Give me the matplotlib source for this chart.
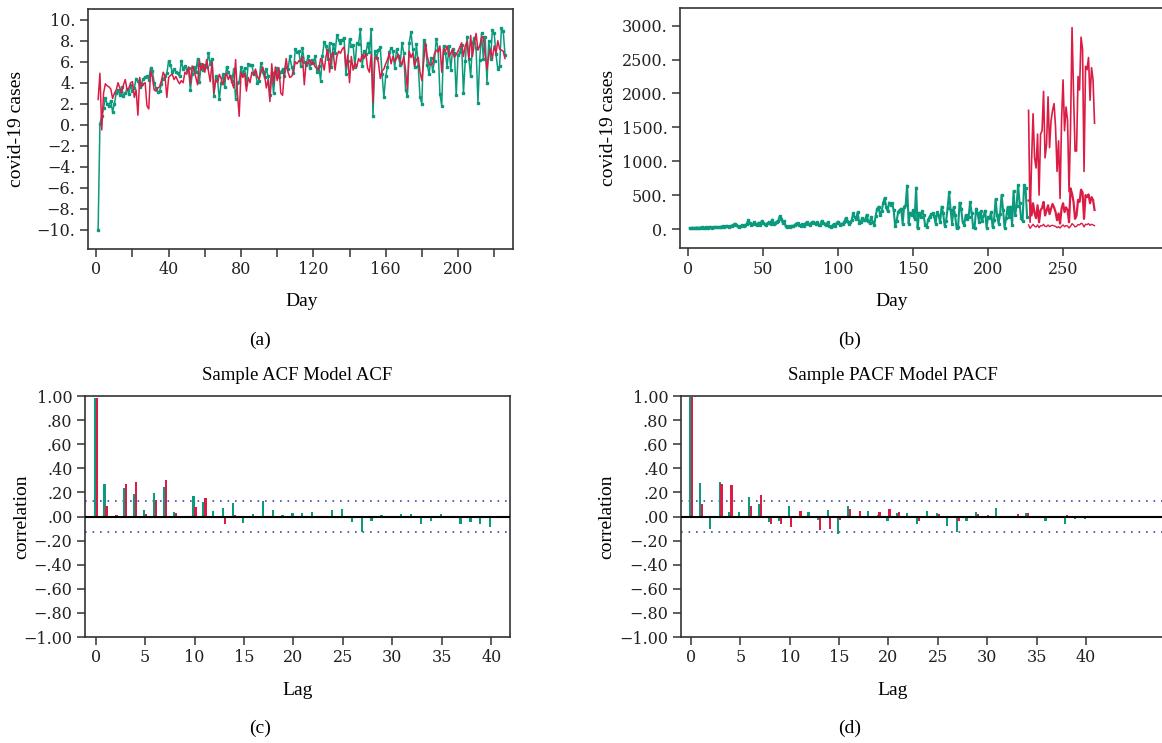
import numpy as np
import matplotlib.pyplot as plt

plt.rcParams['font.family'] = ['Liberation Serif', 'DejaVu Serif']
plt.rcParams['font.size'] = 14

teal = '#0b9a7d'
crimson = '#dc1c44'
dotblue = '#4848a8'
frame = '#333333'
tick_font = {'family': ['DejaVu Serif'], 'size': 11.5}

# (a) transformed daily cases: observed (teal, markers) and fitted (red)
a_obs = [-10, 0.1, 0.8, 1.6, 2.5, 2.0, 1.8, 2.3, 1.2, 2.0, 3.0, 3.3, 2.8, 3.6, 2.7, 3.0, 3.4, 2.9, 3.8, 3.2,
         3.5, 4.4, 4.2, 3.6, 3.9, 4.4, 4.5, 4.6, 4.3, 5.4, 5.1, 4.0, 3.5, 3.1, 3.2, 3.9, 4.4, 4.6, 4.9, 6.1,
         5.7, 5.0, 5.3, 5.0, 4.9, 4.6, 6.1, 5.3, 5.6, 5.2, 5.4, 3.3, 4.8, 5.5, 5.0, 6.3, 4.1, 5.8, 5.2, 5.7,
         5.5, 6.8, 5.8, 6.3, 2.7, 4.6, 4.4, 2.4, 4.0, 4.8, 3.6, 5.5, 5.0, 4.6, 4.2, 5.3, 2.4, 4.0, 4.1, 5.5,
         4.8, 5.4, 3.9, 5.8, 5.7, 5.7, 4.8, 5.0, 4.0, 4.2, 5.9, 5.0, 4.5, 5.3, 4.6, 2.8, 4.9, 3.0, 5.0, 5.4,
         4.5, 5.0, 5.3, 4.6, 5.5, 5.3, 6.5, 5.5, 4.9, 7.2, 6.9, 7.0, 5.6, 7.3, 6.0, 5.7, 6.5, 5.4, 6.2, 5.9,
         6.5, 5.0, 5.6, 4.2, 6.5, 7.9, 7.5, 6.3, 7.8, 5.5, 7.7, 6.8, 8.5, 8.1, 7.8, 8.1, 8.3, 4.8, 6.1, 8.2,
         7.5, 7.6, 5.5, 7.8, 7.7, 9.1, 5.6, 7.0, 6.7, 7.8, 6.9, 9.1, 0.8, 7.0, 6.4, 7.1, 7.4, 4.8, 2.6, 4.6,
         5.5, 6.9, 7.3, 7.0, 5.4, 7.2, 6.5, 5.7, 7.8, 6.8, 3.3, 2.7, 7.8, 8.8, 7.2, 5.5, 7.7, 5.6, 2.6, 2.0,
         8.1, 7.6, 5.7, 4.8, 6.4, 5.1, 6.1, 8.2, 7.2, 2.9, 1.8, 7.5, 6.8, 5.5, 7.5, 5.2, 7.2, 6.8, 2.8, 6.6,
         6.9, 7.6, 3.0, 6.1, 8.4, 6.3, 4.6, 7.8, 8.3, 7.3, 2.1, 6.2, 8.7, 6.3, 8.4, 4.0, 8.0, 6.3, 9.0, 8.7,
         6.7, 5.3, 5.6, 9.2, 8.9, 6.6]
a_fit = [2.4, 4.9, -0.5, 3.0, 3.9, 3.7, 3.6, 3.4, 2.5, 3.0, 3.3, 4.0, 3.5, 3.0, 3.8, 4.3, 3.3, 3.5, 4.0, 4.1,
         2.6, 3.3, 0.9, 4.5, 3.6, 3.9, 4.0, 1.8, 1.5, 5.1, 4.5, 3.3, 3.2, 3.5, 3.6, 4.2, 5.0, 4.6, 2.6, 4.5,
         4.7, 4.8, 4.3, 4.6, 4.2, 3.9, 4.2, 4.0, 5.0, 4.8, 5.5, 3.9, 5.6, 5.2, 4.5, 3.8, 6.1, 5.2, 5.8, 5.0,
         6.2, 5.1, 4.1, 6.0, 3.0, 4.3, 4.0, 4.8, 4.4, 3.8, 4.5, 4.9, 4.3, 4.7, 4.0, 3.5, 6.2, 3.0, 0.8, 5.0,
         4.5, 4.9, 3.2, 4.5, 4.0, 5.0, 4.7, 5.3, 4.6, 4.3, 5.0, 5.5, 4.8, 3.5, 4.3, 2.2, 5.8, 3.9, 5.5, 4.2,
         5.4, 3.0, 2.8, 5.0, 6.3, 5.0, 4.5, 4.6, 5.0, 6.0, 5.8, 6.1, 6.0, 6.5, 3.8, 6.0, 5.8, 6.2, 5.7, 6.0,
         5.5, 5.4, 5.2, 6.3, 6.0, 5.2, 6.5, 7.2, 5.0, 6.7, 6.9, 5.2, 6.5, 7.0, 6.8, 7.2, 7.4, 5.5, 6.6, 4.0,
         6.5, 5.2, 5.9, 5.5, 6.3, 6.0, 6.7, 6.3, 6.8, 5.4, 5.0, 6.7, 2.1, 6.3, 6.5, 5.9, 4.4, 5.1, 5.3, 5.8,
         6.2, 6.8, 5.8, 6.5, 6.0, 6.3, 6.7, 6.1, 5.7, 6.5, 5.2, 3.4, 7.0, 6.4, 6.8, 5.6, 6.2, 6.4, 5.0, 4.2,
         6.0, 7.8, 6.5, 5.8, 5.7, 5.8, 6.8, 7.1, 6.9, 7.5, 5.0, 7.2, 7.0, 7.5, 6.5, 6.8, 7.2, 6.4, 6.7, 7.0,
         7.4, 7.8, 6.5, 7.5, 7.9, 6.2, 8.5, 6.5, 7.8, 8.7, 7.1, 7.5, 8.3, 8.4, 6.7, 5.3, 6.6, 7.2, 6.3, 7.5,
         6.8, 8.0, 7.2, 7.1, 7.0, 6.3]

# (b) daily cases and the forecast band after day 226
b_obs = [10, 15, 20, 12, 18, 22, 15, 20, 25, 18, 22, 28, 20, 25, 30, 22, 28, 32, 25, 30,
         28, 35, 40, 30, 38, 45, 35, 42, 50, 60, 80, 55, 40, 30, 45, 55, 50, 60, 75, 130,
         90, 60, 70, 100, 80, 65, 95, 60, 120, 85, 70, 60, 90, 100, 80, 140, 70, 95, 110, 120,
         190, 150, 90, 120, 40, 25, 45, 30, 50, 40, 60, 80, 90, 55, 40, 70, 45, 80, 100, 70,
         60, 90, 110, 85, 70, 100, 55, 65, 120, 90, 80, 60, 100, 45, 30, 50, 70, 40, 90, 110,
         60, 80, 70, 100, 160, 120, 80, 100, 130, 230, 170, 150, 250, 90, 110, 160, 130, 140, 210, 120,
         90, 180, 100, 60, 190, 300, 330, 200, 260, 380, 460, 330, 260, 390, 360, 380, 280, 50, 120, 250,
         280, 300, 80, 330, 350, 640, 80, 240, 200, 280, 150, 610, 10, 240, 180, 260, 200, 60, 30, 140,
         180, 220, 230, 190, 80, 250, 200, 100, 330, 240, 50, 120, 310, 540, 280, 80, 320, 200, 10, 30,
         390, 300, 110, 60, 200, 150, 170, 400, 240, 30, 20, 300, 230, 100, 260, 120, 200, 270, 20, 180,
         160, 250, 30, 140, 440, 200, 80, 220, 500, 280, 20, 160, 320, 180, 330, 60, 560, 200, 340, 650,
         380, 160, 120, 650, 600, 180]
b_upper = [1750, 100, 1000, 1700, 1050, 900, 1400, 500, 1400, 1450, 2030, 1050, 1250, 1950, 1200,
           1600, 1750, 1850, 1500, 850, 1300, 450, 1600, 2200, 1450, 1800, 1600, 550, 1500, 2970,
           2000, 1150, 1150, 2250, 2050, 2830, 2650, 850, 2400, 2350, 2530, 1900, 2380, 2200, 1560]
b_mid = [420, 430, 200, 380, 230, 160, 350, 100, 280, 310, 400, 200, 270, 350, 220,
         300, 370, 320, 250, 130, 230, 80, 300, 380, 250, 320, 280, 100, 600, 520,
         400, 150, 200, 430, 400, 580, 540, 150, 500, 470, 510, 380, 470, 430, 280]
b_lower = [60, 10, 40, 70, 40, 30, 60, 20, 50, 45, 70, 40, 35, 60, 35,
           50, 55, 45, 40, 20, 35, 15, 40, 60, 35, 50, 45, 15, 40, 80,
           60, 30, 40, 65, 60, 85, 75, 30, 70, 65, 80, 55, 70, 60, 50]

# (c) autocorrelation, lags 0..40
acf_sample = [0.98, 0.27, 0.0, 0.235, 0.19, 0.055, 0.195, 0.245, 0.04, 0.0, 0.17, 0.12, 0.045, 0.07,
              0.11, -0.05, 0.02, 0.13, 0.055, 0.015, 0.03, 0.03, 0.04, 0.0, 0.055, 0.065, -0.045,
              -0.13, -0.035, 0.01, -0.015, 0.02, 0.02, -0.06, -0.035, 0.02, 0.0, -0.06, -0.045,
              -0.06, -0.085]
acf_model = [0.98, 0.09, 0.015, 0.27, 0.29, 0.02, 0.14, 0.30, 0.03, 0.0, 0.08, 0.155, 0.0, -0.06,
             0.01, 0.0, 0.0, 0.0, 0.0, 0.0, 0.0, 0.0, 0.0, 0.0, 0.0, 0.0, 0.0, 0.0, 0.0, 0.0, 0.0,
             0.0, 0.0, 0.0, 0.0, 0.0, 0.0, 0.0, 0.0, 0.0, 0.0]

# (d) partial autocorrelation, lags 0..40
pacf_sample = [0.99, 0.28, -0.10, 0.29, 0.035, 0.035, 0.165, 0.10, -0.045, -0.04, 0.09, 0.0, 0.035,
               -0.03, 0.05, -0.145, 0.085, 0.0, 0.045, 0.01, -0.04, 0.03, 0.03, -0.065, 0.045, 0.03,
               -0.08, -0.13, -0.04, 0.035, 0.0, 0.07, 0.0, 0.0, 0.03, 0.0, -0.04, 0.0, -0.065,
               -0.02, -0.02]
pacf_model = [0.99, 0.10, 0.0, 0.27, 0.265, 0.0, 0.085, 0.175, -0.065, -0.065, -0.09, 0.045, 0.0,
              -0.115, -0.10, -0.03, 0.065, 0.045, -0.01, 0.035, 0.065, 0.035, -0.01, -0.04, 0.0,
              0.02, -0.01, -0.04, -0.01, 0.02, 0.01, 0.0, 0.0, 0.02, 0.03, 0.0, -0.005, 0.0, 0.015,
              -0.005, 0.0]

conf_band = 0.13

W, H = 1162, 743
fig = plt.figure(figsize=(W / 100, H / 100), dpi=100)


def px_axes(left, top, right, bottom):
    # place axes using pixel edges of the reference image
    return fig.add_axes([left / W, 1 - bottom / H, (right - left) / W, (bottom - top) / H])


def style(ax, right_spine=True):
    for s in ax.spines.values():
        s.set_color(frame)
        s.set_linewidth(1.2)
    if not right_spine:
        ax.spines['right'].set_visible(False)
    ax.tick_params(direction='out', length=6, width=1.1, color=frame,
                   labelcolor='#222222', pad=3, right=False, top=False)
    for lab in ax.get_xticklabels() + ax.get_yticklabels():
        lab.set_fontfamily(tick_font['family'])
        lab.set_fontsize(tick_font['size'])
    ax.xaxis.label.set_va('center')
    ax.yaxis.label.set_va('center')


# ---- (a)
ax = px_axes(88, 9, 513, 249)
days_a = np.arange(1, len(a_obs) + 1)
ax.plot(days_a, a_obs, color=teal, lw=1.1, marker='s', ms=1.9, zorder=2)
ax.plot(days_a, a_fit, color=crimson, lw=1.1, zorder=3)
ax.set_xlim(-4.6, 230.4)
ax.set_ylim(-11.84, 11.02)
ax.set_yticks(np.arange(-10, 11, 2))
ax.set_yticklabels([(str(v) + '.').replace('-', '\u2212') for v in range(-10, 11, 2)])
ax.set_xticks(np.arange(0, 221, 20))
ax.set_xticklabels([str(v) if v % 40 == 0 else '' for v in range(0, 221, 20)])
ax.set_xlabel('Day')
ax.set_ylabel('covid-19 cases')
ax.xaxis.set_label_coords(0.502, -0.22)
ax.yaxis.set_label_coords(-0.168, 0.5)
style(ax)

# ---- (b)
ax = px_axes(680, 8, 1162, 248)
days_b = np.arange(1, len(b_obs) + 1)
ax.plot(days_b, b_obs, color=teal, lw=1.5, marker='s', ms=1.6)
ax.plot(np.arange(227, 227 + len(b_upper)), b_upper, color=crimson, lw=1.2)
ax.plot(np.arange(227, 227 + len(b_mid)), b_mid, color=crimson, lw=1.6)
ax.plot(np.arange(227, 227 + len(b_lower)), b_lower, color=crimson, lw=1.0)
ax.set_xlim(-5.5, 316)
ax.set_ylim(-280, 3260)
ax.set_yticks(np.arange(0, 3001, 500))
ax.set_yticklabels([f'{v}.' for v in range(0, 3001, 500)])
ax.set_xticks(np.arange(0, 251, 50))
ax.set_xlabel('Day')
ax.set_ylabel('covid-19 cases')
ax.xaxis.set_label_coords(0.439, -0.222)
ax.yaxis.set_label_coords(-0.149, 0.5)
style(ax, right_spine=False)

corr_ticks = np.round(np.arange(-1.0, 1.01, 0.2), 2)
corr_labels = []
for v in corr_ticks:
    s = f'{abs(v):.2f}'
    if abs(v) < 1:
        s = s[1:]
    corr_labels.append(('\u2212' if v < 0 else '') + s)


def corr_panel(ax, sample, model, title, title_x):
    lags = np.arange(len(sample))
    ax.bar(lags - 0.1, sample, width=0.22, color=teal, zorder=2)
    ax.bar(lags + 0.1, model, width=0.22, color=crimson, zorder=2)
    ax.axhline(0, color='black', lw=1.5, zorder=3)
    ax.axhline(conf_band, color=dotblue, lw=1.2, ls=(0, (1, 3.5)), zorder=1)
    ax.axhline(-conf_band, color=dotblue, lw=1.2, ls=(0, (1, 3.5)), zorder=1)
    ax.set_ylim(-1, 1)
    ax.set_yticks(corr_ticks)
    ax.set_yticklabels(corr_labels)
    ax.set_xticks(np.arange(0, 41, 5))
    ax.set_xlabel('Lag')
    ax.set_ylabel('correlation')
    ax.text(title_x, 1.086, title, transform=ax.transAxes, ha='center', va='center', fontsize=13.5)


# ---- (c)
ax = px_axes(85, 396, 510, 637)
corr_panel(ax, acf_sample, acf_model, 'Sample ACF Model ACF', 0.5)
ax.set_xlim(-1.08, 41.9)
ax.xaxis.set_label_coords(0.5, -0.221)
ax.yaxis.set_label_coords(-0.149, 0.5)
style(ax)

# ---- (d)
ax = px_axes(681, 396, 1162, 637)
corr_panel(ax, pacf_sample, pacf_model, 'Sample PACF Model PACF', 0.441)
ax.set_xlim(-1.01, 47.7)
ax.xaxis.set_label_coords(0.44, -0.221)
ax.yaxis.set_label_coords(-0.154, 0.5)
style(ax, right_spine=False)

# panel letters
for letter, x, y in [('(a)', 260, 340), ('(b)', 850, 340), ('(c)', 260, 728), ('(d)', 850, 728)]:
    fig.text(x / W, 1 - y / H, letter, ha='center', va='center', fontsize=14)

fig.savefig('out.png', dpi=100)
